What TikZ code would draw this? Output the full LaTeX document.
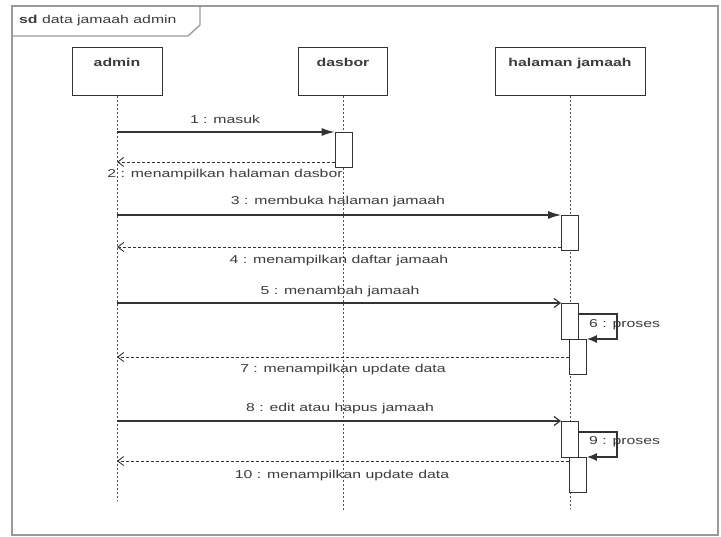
\documentclass[tikz,border=0pt]{standalone}
\usepackage{fontspec}
\setmainfont{Liberation Sans}[FakeStretch=1.38]
\usetikzlibrary{arrows.meta}

\definecolor{ink}{HTML}{333333}
\definecolor{txt}{HTML}{3C3C3C}
\definecolor{framec}{HTML}{9A9A9A}
\definecolor{lifec}{HTML}{505050}

\begin{document}
\begin{tikzpicture}[x=1bp,y=-1bp,
  every node/.style={font=\fontsize{11.5}{13}\selectfont, text=txt},
  frameline/.style={draw=framec, line width=1.3bp},
  head/.style={draw=ink, line width=0.9bp, fill=white, minimum height=48bp,
    inner xsep=0pt, inner ysep=0pt, text height=8bp, text depth=18bp,
    anchor=north, font=\bfseries\fontsize{11.5}{13}\selectfont},
  lifeline/.style={draw=lifec, line width=0.9bp, dash pattern=on 2bp off 2bp},
  act/.style={draw=ink, line width=0.9bp, fill=white, minimum width=17bp,
    inner sep=0pt, anchor=north},
  call/.style={draw=ink, line width=1.2bp, -{Latex[length=13bp,width=8bp]}},
  async/.style={draw=ink, line width=1.2bp, -{Straight Barb[length=6bp,width=9bp]}},
  reply/.style={draw=ink, line width=0.9bp, dash pattern=on 3bp off 2bp,
    -{Straight Barb[length=6bp,width=9bp]}},
  selfcall/.style={draw=ink, line width=1.2bp, -{Latex[length=10bp,width=8bp]}},
  msg/.style={inner sep=1bp}
]
\useasboundingbox (0,0) rectangle (721,537);

% outer frame and its name tab
\draw[frameline] (12,6) rectangle (718,535);
\draw[frameline] (12,36) -- (188,36) -- (200,25) -- (200,6);
\node[anchor=west, inner sep=0pt] (title) at (19,21)
  {\textbf{sd} data jamaah admin};

% lifeline heads
\node[head, minimum width=90bp]  (admin)   at (117,47) {admin};
\node[head, minimum width=89bp]  (dasbor)  at (343,47) {dasbor};
\node[head, minimum width=150bp] (halaman) at (570,47) {halaman jamaah};

% lifeline ends
\coordinate (adminEnd)   at (117,500);
\coordinate (dasborEnd)  at (343,510);
\coordinate (halamanEnd) at (570,508);

\draw[lifeline] (admin.south)   -- (adminEnd);
\draw[lifeline] (dasbor.south)  -- (dasborEnd);
\draw[lifeline] (halaman.south) -- (halamanEnd);

% activation bars
\node[act, minimum height=35bp] (a1)  at (343.5,132) {};
\node[act, minimum height=35bp] (a2)  at (570,215) {};
\node[act, minimum height=36bp] (a3)  at (570,303) {};
\node[act, minimum height=35bp] (a3b) at (578,339) {};
\node[act, minimum height=36bp] (a4)  at (570,421) {};
\node[act, minimum height=35bp] (a4b) at (578,457) {};

% 1 / 2 : dasbor
\draw[call] (admin.south |- a1.north west) -- (a1.north west);
\node[msg] (l1) at (225,119) {1 : masuk};
\draw[reply] (a1.west |- 0,162) -- (admin.south |- 0,162);
\node[msg] (l2) at (225,175) {2 : menampilkan halaman dasbor};

% 3 / 4 : daftar jamaah
\draw[call] (admin.south |- a2.north west) -- (a2.north west);
\node[msg] (l3) at (338,202) {3 : membuka halaman jamaah};
\draw[reply] (a2.west |- 0,247) -- (admin.south |- 0,247);
\node[msg] (l4) at (339,261) {4 : menampilkan daftar jamaah};

% 5 / 6 / 7 : tambah jamaah
\draw[async] (admin.south |- a3.north west) -- (a3.north west);
\node[msg] (l5) at (340,292) {5 : menambah jamaah};
\draw[selfcall] (a3.east |- 0,314) -- (617,314) -- (617,339) -- (a3b.north east);
\node[msg, anchor=west] (l6) at (588,325) {6 : proses};
\draw[reply] (a3b.west |- 0,357) -- (admin.south |- 0,357);
\node[msg] (l7) at (343,370) {7 : menampilkan update data};

% 8 / 9 / 10 : edit atau hapus
\draw[async] (admin.south |- a4.north west) -- (a4.north west);
\node[msg] (l8) at (340,409) {8 : edit atau hapus jamaah};
\draw[selfcall] (a4.east |- 0,432) -- (617,432) -- (617,457) -- (a4b.north east);
\node[msg, anchor=west] (l9) at (588,442) {9 : proses};
\draw[reply] (a4b.west |- 0,461) -- (admin.south |- 0,461);
\node[msg] (l10) at (342,476) {10 : menampilkan update data};
\end{tikzpicture}
\end{document}
